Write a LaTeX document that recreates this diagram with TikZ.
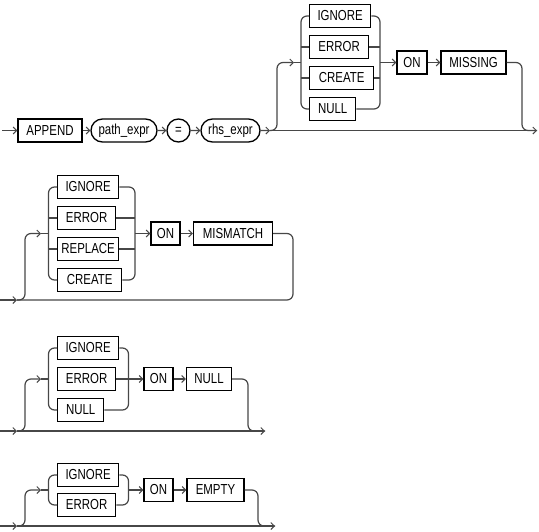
\documentclass[tikz,border=0pt]{standalone}
\usepackage{fontspec}
\setmainfont{Liberation Sans}[FakeStretch=0.79]
\usetikzlibrary{arrows.meta,shapes.misc}
\tikzset{
  kw/.style={draw=black, line width=1.3pt, minimum height=23pt, inner sep=0pt,
    font=\fontsize{14.5}{14.5}\selectfont, text=black},
  ref/.style={kw, rounded rectangle},
  conn/.style={draw=black!72, line width=1.2pt, rounded corners=6pt},
  arr/.style={conn, -{Straight Barb[length=3.5pt,width=7pt,line width=1pt]}},
}
\begin{document}
\begin{tikzpicture}[x=1pt,y=-1pt]
\useasboundingbox (0,0) rectangle (539,531);
% ---------------- Row 1
\coordinate (s1) at (2,130.5);
\node[kw, minimum width=64pt] (append) at (50,130.5) {APPEND};
\node[ref, minimum width=66pt] (path) at (124,130.5) {path\_expr};
\node[ref, minimum width=23pt] (eq) at (178.5,130.5) {=};
\node[ref, minimum width=59pt] (rhs) at (230.5,130.5) {rhs\_expr};
\coordinate (j1) at (270,130.5);
\draw[arr] (s1) -- (append);
\draw[arr] (append) -- (path);
\draw[arr] (path) -- (eq);
\draw[arr] (eq) -- (rhs);
\draw[arr] (rhs) -- (j1);
\node[kw, minimum width=61pt, anchor=west] (ig1) at (309,16) {IGNORE};
\node[kw, minimum width=59pt, anchor=west] (er1) at (309,47) {ERROR};
\node[kw, minimum width=64pt, anchor=west] (cr1) at (309,78) {CREATE};
\node[kw, minimum width=46pt, anchor=west] (nu1) at (309,109) {NULL};
\coordinate (l1) at (301,62.5);
\coordinate (r1) at (380,62.5);
\coordinate (u1) at (277,62.5);
\coordinate (a1) at (294,62.5);
\draw[conn] (ig1.west) -| (l1) |- (nu1.west);
\draw[conn] (er1.west) -- (er1.west -| l1);
\draw[conn] (cr1.west) -- (cr1.west -| l1);
\draw[conn] (ig1.east) -| (r1) |- (nu1.east);
\draw[conn] (er1.east) -- (er1.east -| r1);
\draw[conn] (cr1.east) -- (cr1.east -| r1);
\draw[arr] (j1) -| (u1) -- (a1);
\draw[conn] (a1) -- (l1);
\node[kw, minimum width=30pt] (on1) at (412,62.5) {ON};
\node[kw, minimum width=65pt] (mi1) at (473.5,62.5) {MISSING};
\draw[arr] (r1) -- (on1);
\draw[arr] (on1) -- (mi1);
\coordinate (d1) at (522,130.5);
\coordinate (e1) at (537,130.5);
\draw[conn] (mi1.east) -| (d1) -- (e1);
\draw[arr] (j1) -- (e1);
% ---------------- Row 2
\coordinate (s2) at (0,300);
\coordinate (k2) at (17,300);
\coordinate (u2) at (25,233.5);
\coordinate (a2) at (41,233.5);
\coordinate (l2) at (48.5,233.5);
\coordinate (r2) at (135,233.5);
\node[kw, minimum width=61pt, anchor=west] (ig2) at (57,187) {IGNORE};
\node[kw, minimum width=58pt, anchor=west] (er2) at (57,218) {ERROR};
\node[kw, minimum width=61pt, anchor=west] (rp2) at (57,249) {REPLACE};
\node[kw, minimum width=64pt, anchor=west] (cr2) at (57,280) {CREATE};
\draw[arr] (s2) -- (k2);
\draw[arr] (k2) -| (u2) -- (a2);
\draw[conn] (a2) -- (l2);
\draw[conn] (ig2.west) -| (l2) |- (cr2.west);
\draw[conn] (er2.west) -- (er2.west -| l2);
\draw[conn] (rp2.west) -- (rp2.west -| l2);
\draw[conn] (ig2.east) -| (r2) |- (cr2.east);
\draw[conn] (er2.east) -- (er2.east -| r2);
\draw[conn] (rp2.east) -- (rp2.east -| r2);
\node[kw, minimum width=29pt] (on2) at (165.5,233.5) {ON};
\node[kw, minimum width=79pt] (mm2) at (233,233.5) {MISMATCH};
\draw[arr] (r2) -- (on2);
\draw[arr] (on2) -- (mm2);
\coordinate (d2) at (293,300);
\draw[conn] (mm2.east) -| (d2) -- (k2);
% ---------------- Row 3
\coordinate (s3) at (0,431);
\coordinate (k3) at (17,431);
\coordinate (u3) at (25,379);
\coordinate (a3) at (41,379);
\coordinate (l3) at (48.5,379);
\coordinate (r3) at (128.5,379);
\node[kw, minimum width=61pt, anchor=west] (ig3) at (57,348) {IGNORE};
\node[kw, minimum width=58pt, anchor=west] (er3) at (57,379) {ERROR};
\node[kw, minimum width=46pt, anchor=west] (nu3) at (57,410) {NULL};
\draw[arr] (s3) -- (k3);
\draw[arr] (k3) -| (u3) -- (a3);
\draw[conn] (a3) -- (l3);
\draw[conn] (ig3.west) -| (l3) |- (nu3.west);
\draw[conn] (ig3.east) -| (r3) |- (nu3.east);
\draw[conn] (er3.east) -- (r3);
\node[kw, minimum width=29pt] (on3) at (158.5,379) {ON};
\node[kw, minimum width=45pt] (nl3) at (209,379) {NULL};
\draw[arr] (r3) -- (on3);
\draw[arr] (on3) -- (nl3);
\coordinate (d3) at (248,431);
\coordinate (e3) at (265,431);
\draw[conn] (nl3.east) -| (d3) -- (e3);
\draw[arr] (k3) -- (e3);
% ---------------- Row 4
\coordinate (s4) at (0,526);
\coordinate (k4) at (17,526);
\coordinate (u4) at (25,490);
\coordinate (a4) at (41,490);
\coordinate (l4) at (48.5,490);
\coordinate (r4) at (128.5,490);
\node[kw, minimum width=61pt, anchor=west] (ig4) at (57,475) {IGNORE};
\node[kw, minimum width=58pt, anchor=west] (er4) at (57,505) {ERROR};
\draw[arr] (s4) -- (k4);
\draw[arr] (k4) -| (u4) -- (a4);
\draw[conn] (a4) -- (l4);
\draw[conn] (ig4.west) -| (l4) |- (er4.west);
\draw[conn] (ig4.east) -| (r4) |- (er4.east);
\node[kw, minimum width=29pt] (on4) at (158.5,490) {ON};
\node[kw, minimum width=57pt] (em4) at (215.5,490) {EMPTY};
\draw[arr] (r4) -- (on4);
\draw[arr] (on4) -- (em4);
\coordinate (d4) at (258,526);
\coordinate (e4) at (275,526);
\draw[conn] (em4.east) -| (d4) -- (e4);
\draw[arr] (k4) -- (e4);
\end{tikzpicture}
\end{document}
